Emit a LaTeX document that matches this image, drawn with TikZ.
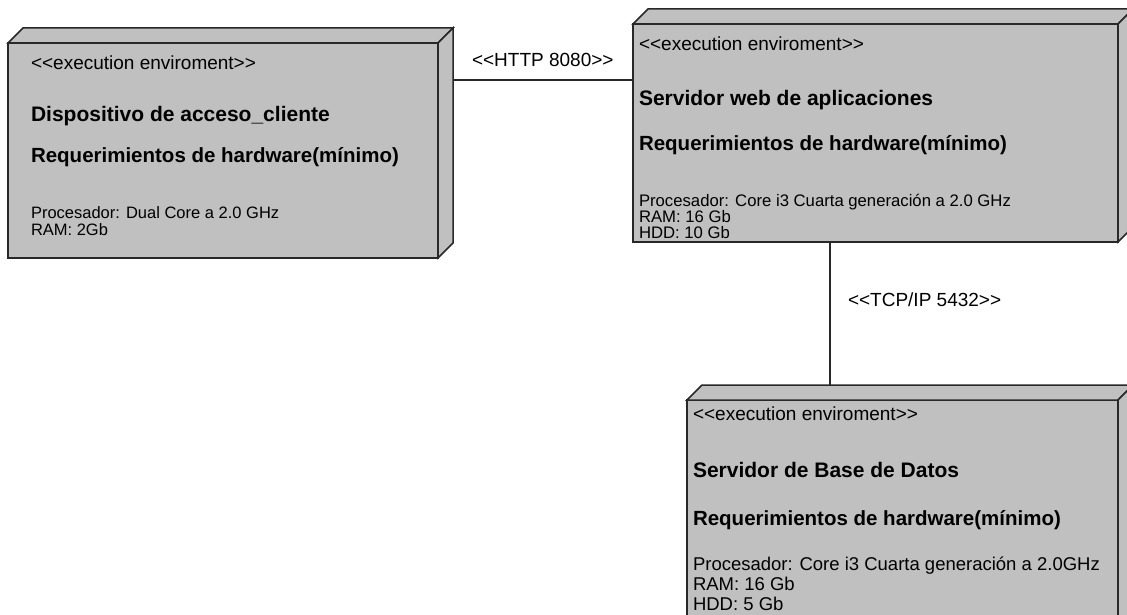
\documentclass[tikz,border=0pt]{standalone}
\usepackage{fontspec}
\setmainfont{Liberation Sans}[Ligatures=TeXOff]
\definecolor{boxgray}{RGB}{192,192,192}
\definecolor{edgecol}{RGB}{40,40,40}
\begin{document}
\begin{tikzpicture}[x=1pt,y=-1pt,
  face/.style={fill=boxgray,draw=edgecol,line width=1.5pt,line join=miter},
  front/.style={face,rectangle,inner sep=0pt,outer sep=0pt,anchor=north west},
  conn/.style={draw=edgecol,line width=1.5pt},
  txt/.style={anchor=base west,inner sep=0pt,outer sep=0pt,text=black},
  stereo/.style={txt,font=\fontsize{19}{19}\selectfont},
  ttl/.style={txt,font=\fontsize{21}{21}\selectfont\bfseries},
  req/.style={txt,font=\fontsize{20.5}{20.5}\selectfont\bfseries},
  detA/.style={txt,font=\fontsize{16.5}{16.5}\selectfont},
  detB/.style={txt,font=\fontsize{16.7}{16.7}\selectfont},
  detC/.style={txt,font=\fontsize{18.5}{18.5}\selectfont},
]
\useasboundingbox[fill=white] (0,0) rectangle (1127,615);
\clip (0,0) rectangle (1127,615);

% connector helper coordinates
\coordinate (h) at (0,80);
\coordinate (v) at (830,0);

% Box 1
\node[front,minimum width=430pt,minimum height=215pt] (b1) at (8,43) {};
\draw[face] (b1.north west) -- ++(15,-15) -- ([shift={(15pt,15pt)}]b1.north east) -- (b1.north east) -- cycle;
\draw[face] (b1.north east) -- ([shift={(15pt,15pt)}]b1.north east) -- ([shift={(15pt,15pt)}]b1.south east) -- (b1.south east) -- cycle;

% Box 2
\node[front,minimum width=485pt,minimum height=218pt] (b2) at (633,24) {};
\draw[face] (b2.north west) -- ++(15,-15) -- ([shift={(15pt,15pt)}]b2.north east) -- (b2.north east) -- cycle;
\draw[face] (b2.north east) -- ([shift={(15pt,15pt)}]b2.north east) -- ([shift={(15pt,15pt)}]b2.south east) -- (b2.south east) -- cycle;

% Box 3
\node[front,minimum width=431pt,minimum height=230pt] (b3) at (687,400) {};
\draw[face] (b3.north west) -- ++(15,-15) -- ([shift={(15pt,15pt)}]b3.north east) -- (b3.north east) -- cycle;
\draw[face] (b3.north east) -- ([shift={(15pt,15pt)}]b3.north east) -- ([shift={(15pt,15pt)}]b3.south east) -- (b3.south east) -- cycle;

% Connectors
\draw[conn] ([xshift=15pt]b1.north east |- h) -- (b2.north west |- h);
\draw[conn] (b2.south -| v) -- ([yshift=15pt]b3.north -| v);
\node[stereo] (l1) at (472,67) {<<HTTP 8080>>};
\node[stereo] (l2) at (848,306) {<<TCP/IP 5432>>};

% Box 1 text
\node[stereo] (s1) at (31,70) {<<execution enviroment>>};
\node[ttl] (t1) at (31,122) {Dispositivo de acceso\_cliente};
\node[req] (r1) at (31,162) {Requerimientos de hardware(mínimo)};
\node[detA] (p1) at (31,218) {Procesador: Dual Core a 2.0 GHz};
\node[detA] (m1) at (31,235) {RAM: 2Gb};

% Box 2 text
\node[stereo] (s2) at (639,51) {<<execution enviroment>>};
\node[ttl] (t2) at (639,106) {Servidor web de aplicaciones};
\node[req] (r2) at (639,150) {Requerimientos de hardware(mínimo)};
\node[detB] (p2) at (639,206) {Procesador: Core i3 Cuarta generación a 2.0 GHz};
\node[detB] (m2) at (639,222) {RAM: 16 Gb};
\node[detB] (d2) at (639,238) {HDD: 10 Gb};

% Box 3 text
\node[stereo] (s3) at (693,420) {<<execution enviroment>>};
\node[ttl] (t3) at (693,477) {Servidor de Base de Datos};
\node[req] (r3) at (693,525) {Requerimientos de hardware(mínimo)};
\node[detC] (p3) at (693,570) {Procesador: Core i3 Cuarta generación a 2.0GHz};
\node[detC] (m3) at (693,590) {RAM: 16 Gb};
\node[detC] (d3) at (693,610) {HDD: 5 Gb};
\end{tikzpicture}
\end{document}
